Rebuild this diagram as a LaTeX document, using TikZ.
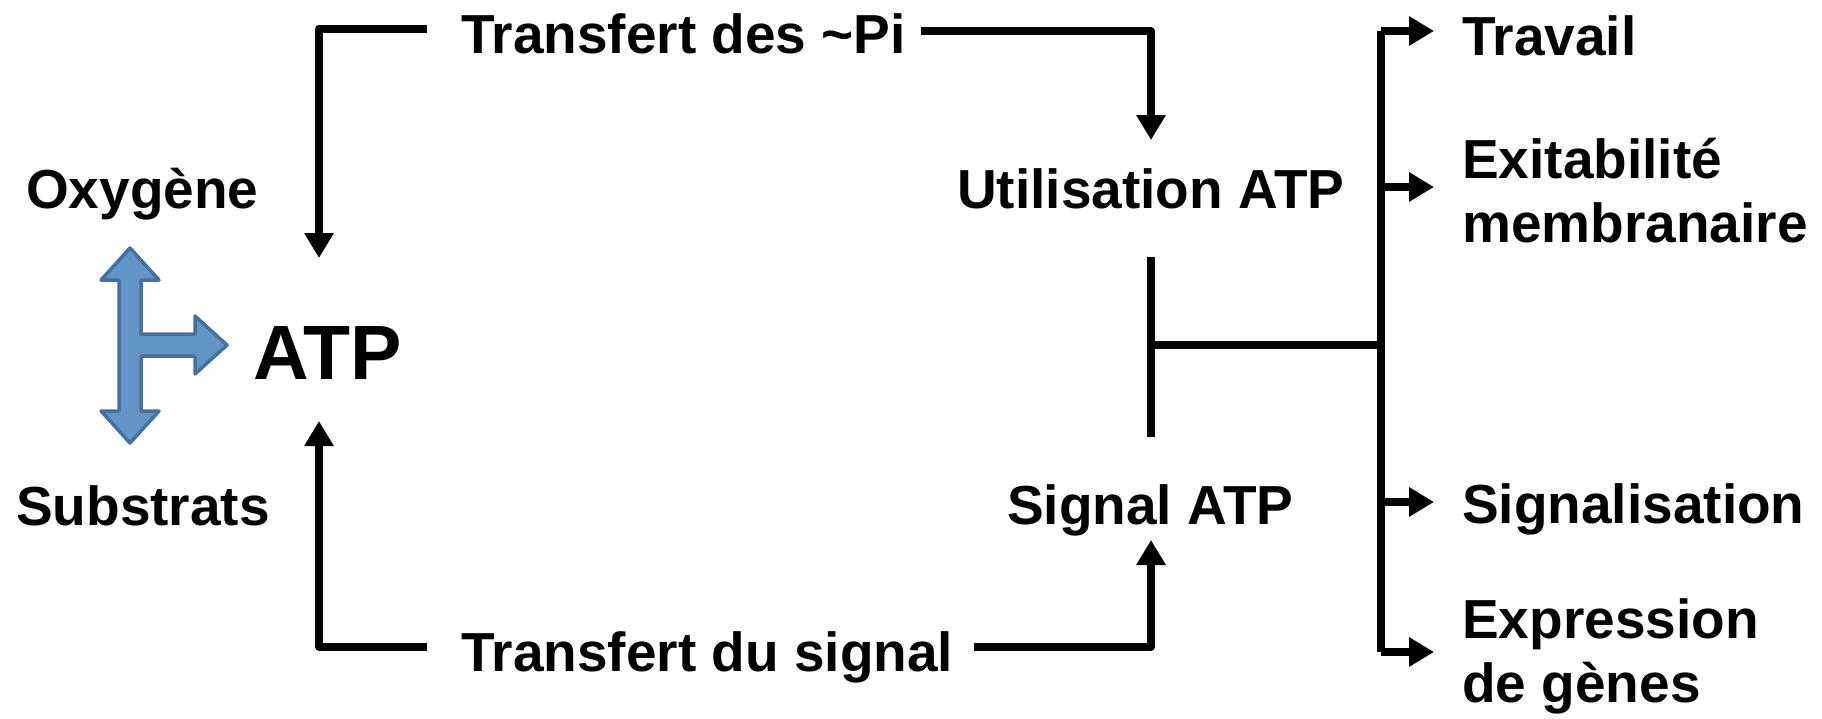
\documentclass[tikz,border=0pt]{standalone}
\usepackage{fontspec}
\setmainfont{Liberation Sans}
\usetikzlibrary{arrows.meta}
\tikzset{
  lbl/.style={anchor=base west,inner sep=0pt,font=\fontsize{55}{64}\selectfont\bfseries,align=left},
  conn/.style={line width=8pt,draw=black,line join=round},
  arr/.style={conn,-{Triangle[length=25pt,width=28pt]}},
  bigarrow/.style={draw=arrowedge,fill=arrowfill,line width=3.5pt,line join=round}
}
\definecolor{arrowfill}{RGB}{99,148,200}
\definecolor{arrowedge}{RGB}{70,112,160}
\begin{document}
\begin{tikzpicture}[x=1pt,y=-1pt]
\useasboundingbox (0,0) rectangle (1822,718);
% text nodes
\node[lbl] (tpi) at (461,53) {Transfert des \char"007E Pi};
\node[lbl] (oxy) at (26,208) {Oxygène};
\node[lbl] (util) at (957,208) {Utilisation ATP};
\node[lbl,font=\fontsize{77}{80}\selectfont\bfseries] (atp) at (253,379) {ATP};
\node[lbl] (sub) at (16,525) {Substrats};
\node[lbl] (sig) at (1007,524) {Signal ATP};
\node[lbl] (tsig) at (461,671) {Transfert du signal};
\node[lbl] (trav) at (1462,55) {Travail};
\node[lbl] (exi) at (1462,242) {Exitabilité\\membranaire};
\node[lbl] (sgn) at (1462,523) {Signalisation};
\node[lbl] (exp) at (1462,702) {Expression\\de gènes};
% blue three-way arrow
\path[bigarrow] (130,248) -- (159,280) -- (141,280) -- (141,334) -- (195,334) -- (195,316)
  -- (227,345) -- (195,374) -- (195,356) -- (141,356) -- (141,411) -- (159,411)
  -- (130,443) -- (101,411) -- (119,411) -- (119,280) -- (101,280) -- cycle;
% coordinates
\coordinate (tl) at (427,28.5);
\coordinate (tr) at (921,31);
\coordinate (bl) at (427,647);
\coordinate (br) at (974,647);
\coordinate (atpT) at (319,258);
\coordinate (atpB) at (319,421);
\coordinate (utilB) at (1151,140);
\coordinate (sigT) at (1151,540);
\coordinate (barT) at (1151,257);
\coordinate (barB) at (1151,437);
\coordinate (barM) at (1151,345);
\coordinate (busM) at (1381,345);
\coordinate (busT) at (1381,31);
\coordinate (busB) at (1381,652);
% connectors
\draw[arr] (tl) -| (atpT);
\draw[arr] (tr) -| (utilB);
\draw[arr] (bl) -| (atpB);
\draw[arr] (br) -| (sigT);
\draw[conn,line cap=butt] (barT) -- (barB);
\draw[conn] (barM) -- (busM);
\draw[conn] (busT) -- (busB);
\draw[arr] (busT) -- (1434,31);
\draw[arr] (1381,187) -- (1434,187);
\draw[arr] (1381,502) -- (1434,502);
\draw[arr] (busB) -- (1434,652);
\end{tikzpicture}
\end{document}
